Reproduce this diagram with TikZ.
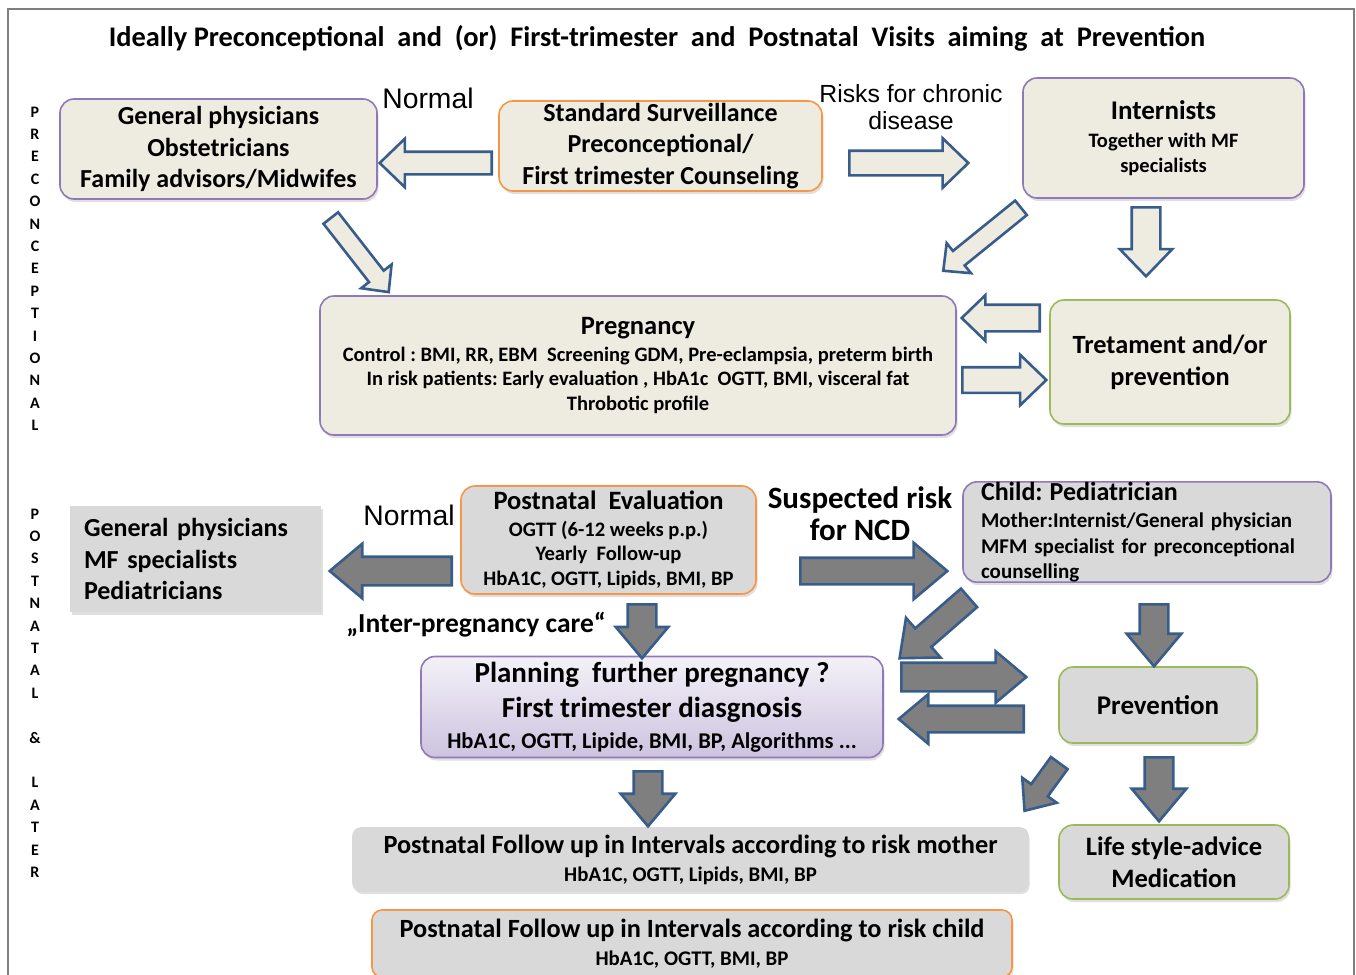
\documentclass[tikz,border=0pt]{standalone}
\usepackage{fontspec}
\setmainfont{Carlito}
\newfontfamily\arialfont{Liberation Sans}
\usetikzlibrary{shapes.arrows,shadows}
\definecolor{beige}{HTML}{EEECE1}
\definecolor{boxgray}{HTML}{D9D9D9}
\definecolor{lilac}{HTML}{8F79B8}
\definecolor{orangeline}{HTML}{F79646}
\definecolor{greenline}{HTML}{9BBB59}
\definecolor{arrowblue}{HTML}{385D8A}
\definecolor{arrowfill}{HTML}{7F7F7F}
\definecolor{framegray}{HTML}{7F7F7F}
\newcommand\fs[2]{\fontsize{#1}{#2}\selectfont}
\frenchspacing
\begin{document}
\begin{tikzpicture}[x=1pt,y=-1pt,
  box/.style={rounded corners=14pt,line width=1.6pt,fill=beige,align=center,inner sep=0pt,
    drop shadow={opacity=.25,shadow xshift=1.5pt,shadow yshift=-3pt}},
  lilacbox/.style={box,draw=lilac},
  orangebox/.style={box,draw=orangeline},
  greenbox/.style={box,draw=greenline},
  lightarrow/.style={single arrow,draw=arrowblue,fill=beige,line width=2.6pt,inner sep=0pt,
    minimum width=0pt,single arrow tip angle=88,anchor=tail},
  darkarrow/.style={lightarrow,fill=arrowfill,single arrow tip angle=80},
  arw/.style n args={4}{rotate=#1,minimum height=#2,inner ysep=#3,single arrow head extend=#4},
  letter/.style={font=\fs{16}{18}\bfseries}]
  \useasboundingbox (0,0) rectangle (1356,974);
  \draw[framegray,line width=1.3pt] (8,990) -- (8,9) -- (1354,9) -- (1354,990);
  \node[font=\fs{28.4}{32}\bfseries] (title) at (657,38) {Ideally Preconceptional~ and~ (or)~ First-trimester~ and~ Postnatal~ Visits~ aiming~ at~ Prevention};
  \foreach \c [count=\i from 0] in {P,R,E,C,O,N,C,E,P,T,I,O,N,A,L}
    \node[letter] (pre\i) at (35,112+22.4*\i) {\c};
  \foreach \c [count=\i from 0] in {P,O,S,T,N,A,T,A,L,,\&,,L,A,T,E,R}
    \node[letter] (post\i) at (35,514+22.4*\i) {\c};

  \node[lilacbox,minimum width=317,minimum height=100,font=\fs{26}{31.5}\bfseries] (gp) at (218.5,149)
    {General physicians\\Obstetricians\\Family advisors/Midwifes};
  \node[orangebox,minimum width=323,minimum height=90,font=\fs{26}{31.5}\bfseries] (surv) at (660.5,146)
    {Standard Surveillance\\Preconceptional/\\First trimester Counseling};
  \node[lilacbox,minimum width=281,minimum height=120,font=\fs{20.5}{25}\bfseries] (intern) at (1163.5,138)
    {{\fs{27}{30}Internists}\\[3pt]Together with MF\\specialists};
  \node[lilacbox,minimum width=636,minimum height=139,font=\fs{20.5}{24.5}\bfseries] (preg) at (638,365.5)
    {{\fs{26.5}{30}Pregnancy}\\[2pt]Control : BMI, RR, EBM~ Screening GDM, Pre-eclampsia, preterm birth\\In risk patients: Early evaluation , HbA1c~ OGTT, BMI, visceral fat\\Throbotic profile};
  \node[greenbox,minimum width=240,minimum height=124,font=\fs{26.3}{32}\bfseries] (treat) at (1170,362)
    {Tretament and/or\\prevention};
  \node[font=\arialfont\fs{28.3}{30}] (normtop) at (428,98) {Normal};
  \node[font=\arialfont\fs{24.8}{27},align=center] (risks) at (911,107) {Risks for chronic\\disease};

  \node[lightarrow,arw={180}{112}{10}{13}] (a1) at (493,163) {};
  \node[lightarrow,arw={0}{119}{11}{12.5}] (a2) at (848,163) {};
  \node[lightarrow,arw={-52}{94}{8}{10}] (a3) at (330,217) {};
  \node[lightarrow,arw={-141}{100}{8}{10}] (a4) at (1022,207) {};
  \node[lightarrow,arw={-90}{69}{13}{12}] (a5) at (1146,206) {};
  \node[lightarrow,arw={180}{78}{12}{9.5}] (a6) at (1041,318) {};
  \node[lightarrow,arw={0}{84}{11.5}{12.5}] (a7) at (961,380) {};

  \node[box,fill=boxgray,draw=none,rounded corners=0pt,align=left,inner xsep=14pt,text width=223,minimum height=106,font=\fs{26}{31.5}\bfseries] (gp2) at (195.5,559)
    {General physicians\\MF specialists\\Pediatricians};
  \node[orangebox,fill=boxgray,minimum width=295,minimum height=108,font=\fs{20.6}{24.5}\bfseries] (eval) at (608.5,540)
    {{\fs{26.5}{30}Postnatal~ Evaluation}\\[2pt]OGTT (6-12 weeks p.p.)\\Yearly~ Follow-up\\HbA1C, OGTT, Lipids, BMI, BP};
  \node[lilacbox,fill=boxgray,align=left,inner xsep=18pt,text width=332,minimum height=100,font=\fs{21}{25.5}\bfseries] (child) at (1147,532)
    {{\fs{26}{30}Child: Pediatrician}\\[2pt]Mother:Internist/General physician\\MFM specialist for preconceptional\\counselling};
  \node[lilacbox,top color=lilac!10,bottom color=lilac!45,minimum width=462,minimum height=101,font=\fs{22.5}{31}\bfseries] (plan) at (652,707)
    {{\fs{29}{33}Planning~ further pregnancy ?}\\[4pt]{\fs{29}{33}First trimester diasgnosis}\\HbA1C, OGTT, Lipide, BMI, BP, Algorithms ...};
  \node[greenbox,fill=boxgray,minimum width=198,minimum height=76,font=\fs{27}{30}\bfseries] (prev) at (1158,705) {Prevention};
  \node[box,fill=boxgray,draw=gray!30,rounded corners=8pt,minimum width=675,minimum height=63,font=\fs{20.8}{28}\bfseries] (fmother) at (690.5,859.5)
    {{\fs{26.3}{30}Postnatal Follow up in Intervals according to risk mother}\\HbA1C, OGTT, Lipids, BMI, BP};
  \node[greenbox,fill=boxgray,minimum width=230,minimum height=74,font=\fs{26.6}{32}\bfseries] (life) at (1174,862)
    {Life style-advice\\Medication};
  \node[orangebox,fill=boxgray,rounded corners=10pt,minimum width=640,minimum height=67,font=\fs{20.8}{28}\bfseries] (fchild) at (692,943.5)
    {{\fs{26.3}{30}Postnatal Follow up in Intervals according to risk child}\\HbA1C, OGTT, BMI, BP};
  \node[font=\arialfont\fs{28.3}{30}] (normbot) at (409,515) {Normal};
  \node[font=\fs{31}{32}\bfseries,align=center] (suspect) at (860,514) {Suspected risk\\for NCD};
  \node[font=\fs{27.5}{30}\bfseries] (inter) at (476,625) {„Inter-pregnancy care“};

  \node[darkarrow,arw={180}{122}{13}{13}] (b1) at (453,571) {};
  \node[darkarrow,arw={0}{147}{12}{15}] (b2) at (799,571) {};
  \node[darkarrow,arw={-90}{54}{13}{12}] (b3) at (642,603) {};
  \node[darkarrow,arw={-139}{92}{11}{14}] (b4) at (970,597) {};
  \node[darkarrow,arw={0}{125}{13}{11.5}] (b5) at (900,677) {};
  \node[darkarrow,arw={180}{125}{12}{11.5}] (b6) at (1025,719) {};
  \node[darkarrow,arw={-90}{62}{13}{13}] (b7) at (1154,603) {};
  \node[darkarrow,arw={-90}{64}{13}{13}] (b8) at (1159,756) {};
  \node[darkarrow,arw={-90}{55}{13}{13}] (b9) at (648,770) {};
  \node[darkarrow,arw={-126}{59}{9}{11}] (b10) at (1060,762) {};
\end{tikzpicture}
\end{document}
